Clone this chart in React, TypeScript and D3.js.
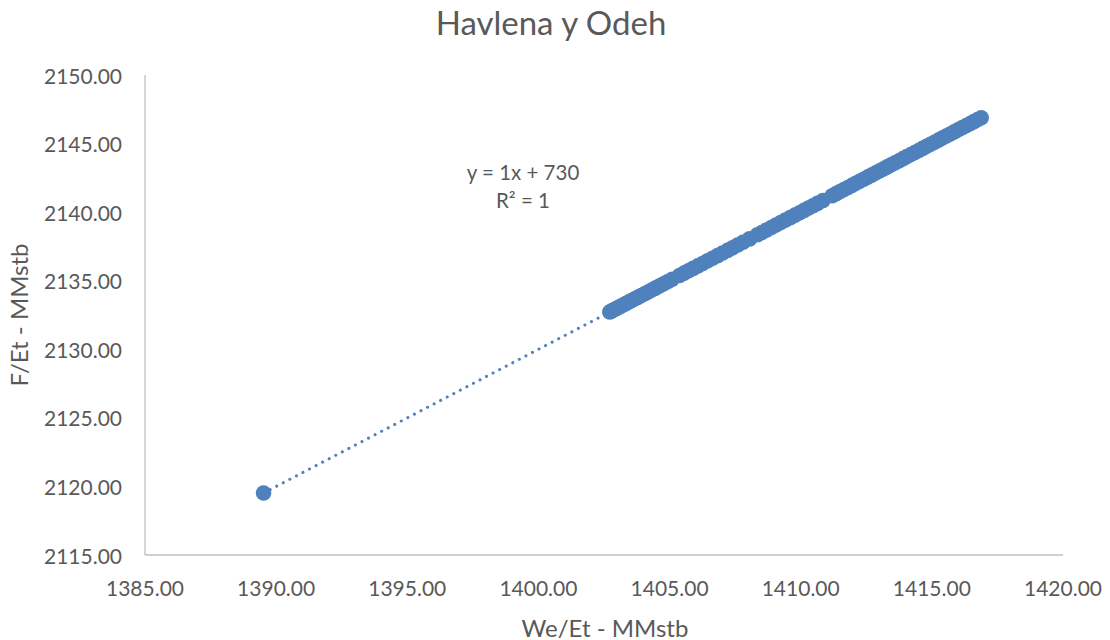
import * as d3 from "d3";

// Havlena y Odeh scatter: We/Et vs F/Et
const weEt = [
  1389.52,
  1402.72, 1402.8, 1402.88, 1402.97, 1403.06, 1403.15, 1403.25, 1403.35, 1403.46, 1403.57,
  1403.68, 1403.8, 1403.92, 1404.05, 1404.18, 1404.32, 1404.46, 1404.61, 1404.76, 1404.92,
  1405.1, 1405.38, 1405.55, 1405.72, 1405.9, 1406.08, 1406.26, 1406.45, 1406.64, 1406.83,
  1407.02, 1407.21, 1407.4, 1407.6, 1407.8, 1408.05, 1408.35, 1408.52, 1408.7, 1408.88,
  1409.06, 1409.24, 1409.42, 1409.6, 1409.78, 1409.96, 1410.13, 1410.3, 1410.47, 1410.64,
  1410.85, 1411.2, 1411.35, 1411.5, 1411.65, 1411.8, 1411.95, 1412.1, 1412.25, 1412.4,
  1412.55, 1412.7, 1412.85, 1413.0, 1413.15, 1413.3, 1413.45, 1413.6, 1413.75, 1413.9,
  1414.05, 1414.2, 1414.35, 1414.5, 1414.65, 1414.8, 1414.95, 1415.1, 1415.25, 1415.4,
  1415.55, 1415.7, 1415.85, 1416.0, 1416.15, 1416.3, 1416.45, 1416.6, 1416.75, 1416.88,
];
const fEt = [
  2119.52,
  2132.72, 2132.8, 2132.88, 2132.97, 2133.06, 2133.15, 2133.25, 2133.35, 2133.46, 2133.57,
  2133.68, 2133.8, 2133.92, 2134.05, 2134.18, 2134.32, 2134.46, 2134.61, 2134.76, 2134.92,
  2135.1, 2135.38, 2135.55, 2135.72, 2135.9, 2136.08, 2136.26, 2136.45, 2136.64, 2136.83,
  2137.02, 2137.21, 2137.4, 2137.6, 2137.8, 2138.05, 2138.35, 2138.52, 2138.7, 2138.88,
  2139.06, 2139.24, 2139.42, 2139.6, 2139.78, 2139.96, 2140.13, 2140.3, 2140.47, 2140.64,
  2140.85, 2141.2, 2141.35, 2141.5, 2141.65, 2141.8, 2141.95, 2142.1, 2142.25, 2142.4,
  2142.55, 2142.7, 2142.85, 2143.0, 2143.15, 2143.3, 2143.45, 2143.6, 2143.75, 2143.9,
  2144.05, 2144.2, 2144.35, 2144.5, 2144.65, 2144.8, 2144.95, 2145.1, 2145.25, 2145.4,
  2145.55, 2145.7, 2145.85, 2146.0, 2146.15, 2146.3, 2146.45, 2146.6, 2146.75, 2146.88,
];
const xTicks = [1385, 1390, 1395, 1400, 1405, 1410, 1415, 1420];
const yTicks = [2115, 2120, 2125, 2130, 2135, 2140, 2145, 2150];
const trendSlope = 1;
const trendIntercept = 730;

const W = 1110;
const H = 640;
const left = 145, right = 1063, top = 75, bottom = 555;
const blue = "#4f81bd";
const textColor = "#595959";
const font = "Lato, 'Open Sans', sans-serif";

export default function App() {
  const x = d3.scaleLinear().domain([1385, 1420]).range([left, right]);
  const y = d3.scaleLinear().domain([2115, 2150]).range([bottom, top]);

  const xMin = d3.min(weEt) as number;
  const xMax = d3.max(weEt) as number;
  const trend = d3.line<number>()
    .x(d => x(d))
    .y(d => y(trendSlope * d + trendIntercept));

  return (
    <svg width={W} height={H} style={{ position: "absolute", left: 0, top: 0, background: "#fff" }}
      fontFamily={font}>
      <text x={551} y={22} textAnchor="middle" dominantBaseline="central" fontSize={33} fill={textColor}>
        Havlena y Odeh
      </text>

      {/* axes */}
      <line x1={left} x2={left} y1={top} y2={bottom} stroke="#bfbfbf" strokeWidth={1.3} />
      <line x1={left} x2={right} y1={bottom} y2={bottom} stroke="#bfbfbf" strokeWidth={1.3} />

      {yTicks.map(t => (
        <text key={t} x={122} y={y(t)} textAnchor="end" dominantBaseline="central" fontSize={21} fill={textColor}>
          {t.toFixed(2)}
        </text>
      ))}
      {xTicks.map(t => (
        <text key={t} x={x(t)} y={587} textAnchor="middle" dominantBaseline="central" fontSize={21} fill={textColor}>
          {t.toFixed(2)}
        </text>
      ))}

      <text x={605} y={627} textAnchor="middle" dominantBaseline="central" fontSize={24} fill={textColor}>
        We/Et - MMstb
      </text>
      <text transform={`translate(18,315) rotate(-90)`} textAnchor="middle" dominantBaseline="central"
        fontSize={24} fill={textColor}>
        F/Et - MMstb
      </text>

      {/* markers */}
      {weEt.map((v, i) => (
        <circle key={i} cx={x(v)} cy={y(fEt[i])} r={7.8} fill={blue} />
      ))}

      {/* linear trendline */}
      <path d={trend([xMin, xMax]) ?? ""} fill="none" stroke={blue} strokeWidth={3}
        strokeLinecap="round" strokeDasharray="0.1 7.3" />

      <text x={523} y={172} textAnchor="middle" dominantBaseline="central" fontSize={20.5} fill={textColor}>
        y = 1x + 730
      </text>
      <text x={523} y={200} textAnchor="middle" dominantBaseline="central" fontSize={20.5} fill={textColor}>
        R² = 1
      </text>
    </svg>
  );
}
